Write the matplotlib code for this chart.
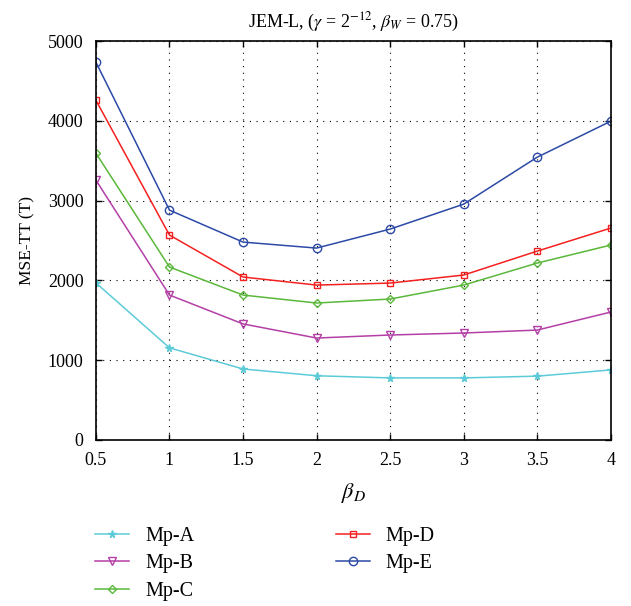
import matplotlib
matplotlib.use("Agg")
import matplotlib.pyplot as plt

beta_d = [0.5, 1, 1.5, 2, 2.5, 3, 3.5, 4]
mp_a = [1970, 1155, 890, 805, 778, 778, 800, 878]
mp_b = [3258, 1817, 1455, 1278, 1316, 1341, 1378, 1604]
mp_c = [3596, 2168, 1817, 1717, 1767, 1942, 2218, 2444]
mp_d = [4260, 2569, 2043, 1942, 1967, 2068, 2368, 2657]
mp_e = [4737, 2882, 2481, 2406, 2644, 2957, 3546, 3997]
labels = ["Mp-A", "Mp-B", "Mp-C", "Mp-D", "Mp-E"]
xticks = [0.5, 1, 1.5, 2, 2.5, 3, 3.5, 4]
xtick_labels = ["0.5", "1", "1.5", "2", "2.5", "3", "3.5", "4"]
yticks = [0, 1000, 2000, 3000, 4000, 5000]

plt.rcParams['font.family'] = ['Liberation Serif', 'DejaVu Serif']
plt.rcParams['mathtext.fontset'] = 'stix'

fig = plt.figure(figsize=(6.31, 6.06), dpi=100)
ax = fig.add_axes([0.152, 0.274, 0.816, 0.658])

series = [mp_a, mp_b, mp_c, mp_d, mp_e]
colors = ["#5ccbd8", "#b43fa6", "#5ab83a", "#f52020", "#2c4aa6"]
markers = ["*", "v", "D", "s", "o"]
msizes = [5.5, 6, 4.5, 5, 6]
handles = []
for s, c, m, ms, lab in zip(series, colors, markers, msizes, labels):
    h, = ax.plot(beta_d, s, color=c, marker=m, markersize=ms, lw=1.1,
                 markerfacecolor='none' if m != '*' else c,
                 markeredgecolor=c, markeredgewidth=1.0, label=lab)
    handles.append(h)

ax.set_xlim(0.5, 4)
ax.set_ylim(0, 5000)
ax.set_xticks(xticks)
ax.set_xticklabels(xtick_labels)
ax.set_yticks(yticks)
ax.tick_params(direction='in', labelsize=13, length=4, width=1, top=True, right=True)
ax.tick_params(axis='x', pad=9)
ax.tick_params(axis='y', pad=9)
ax.grid(True, linestyle=(0, (1, 5)), color='black', linewidth=0.8)
for sp in ax.spines.values():
    sp.set_linewidth(1.2)
ax.set_ylabel("MSE-TT (T)", fontsize=12.5, labelpad=9)
ax.set_xlabel(r"$\beta_D$", fontsize=16, labelpad=8)
ax.set_title(r"JEM-L, ($\gamma$ = 2$^{-12}$, $\beta_W$ = 0.75)", fontsize=13, pad=10)

fig.legend(handles=handles, loc='upper left', bbox_to_anchor=(0.122, 0.16),
           ncol=2, frameon=False, fontsize=14.5, handlelength=1.7,
           columnspacing=7.0, labelspacing=0.4, handletextpad=0.8)

fig.savefig("out.png", dpi=100)
